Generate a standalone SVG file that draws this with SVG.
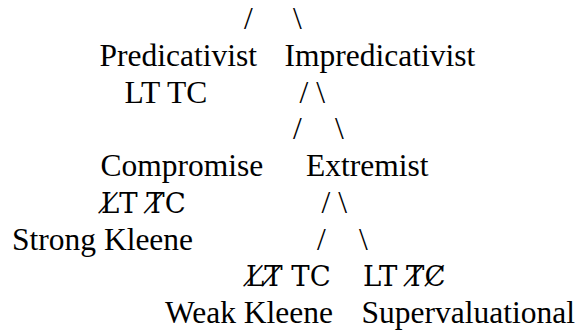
<svg xmlns="http://www.w3.org/2000/svg" width="580" height="333" viewBox="0 0 580 333">
<style>
.t{font-family:'Liberation Serif','Times New Roman',serif;font-size:31.5px;fill:#000}
.s{font-family:'DejaVu Serif','Liberation Serif',serif;font-size:27.5px;fill:#000}
</style>
<rect width="580" height="333" fill="#fff"/>
<g id="connectors" class="t">
<text x="244" y="29">/</text>
<text x="293" y="29">\</text>
<text x="299.5" y="102.5">/ \</text>
<text x="293" y="139.25">/</text>
<text x="335" y="139.25">\</text>
<text x="321.5" y="212.75">/ \</text>
<text x="317" y="249.5">/</text>
<text x="359" y="249.5">\</text>
</g>
<g id="predicativist" class="t">
<text x="99.5" y="65.75">Predicativist</text>
<text x="124.6" y="102.5">LT TC</text>
</g>
<g id="impredicativist" class="t">
<text x="284.5" y="65.75">Impredicativist</text>
</g>
<g id="compromise" class="t">
<text x="100.5" y="176">Compromise</text>
<text class="s" x="101" y="212.75">L̸T T̸C</text>
</g>
<g id="strong-kleene" class="t">
<text x="12" y="249.5">Strong Kleene</text>
</g>
<g id="extremist" class="t">
<text x="306" y="176">Extremist</text>
</g>
<g id="weak-kleene" class="t">
<text class="s" x="246" y="286.25">L̸T̸ TC</text>
<text x="165" y="323">Weak Kleene</text>
</g>
<g id="supervaluational" class="t">
<text class="s" x="363" y="286.25">LT T̸C̸</text>
<text x="361.5" y="323">Supervaluational</text>
</g>
</svg>
